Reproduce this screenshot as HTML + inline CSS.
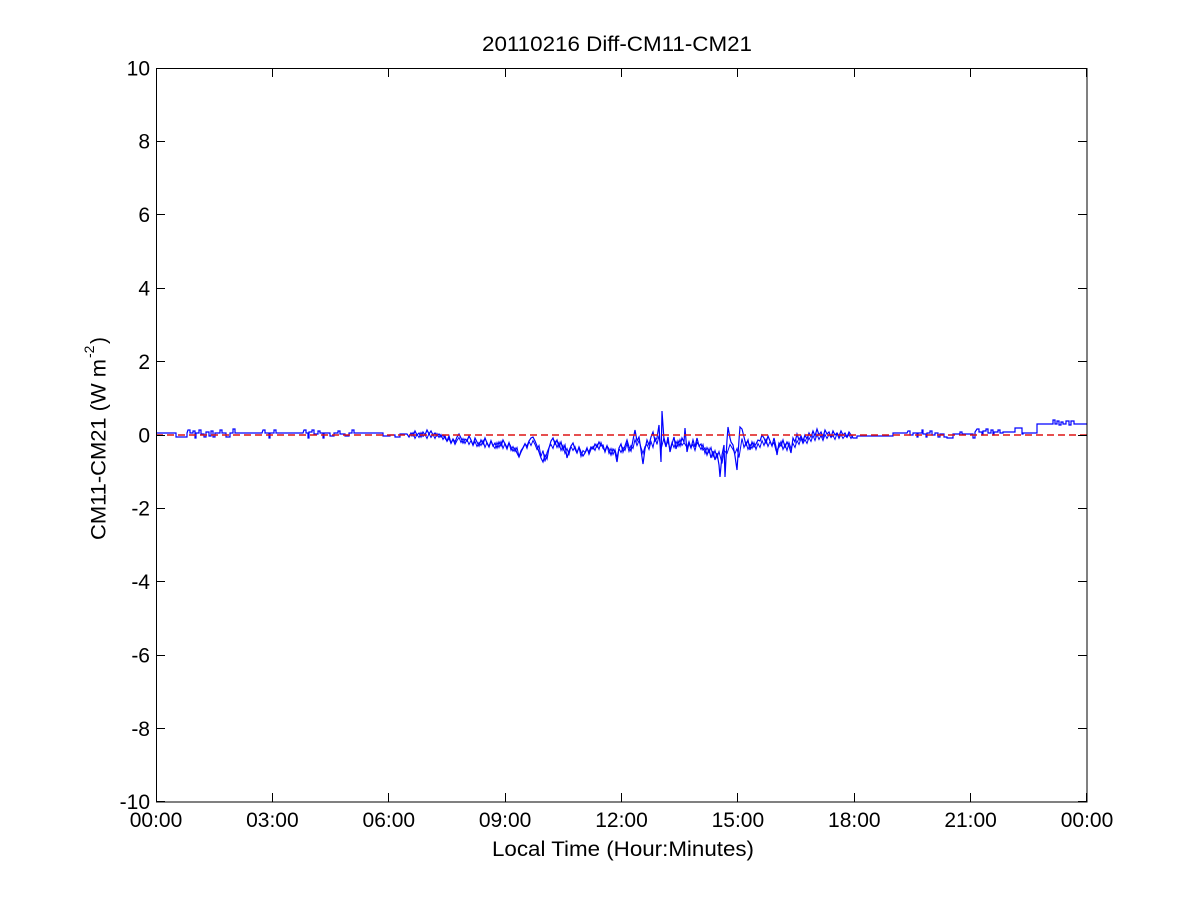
<!DOCTYPE html>
<html>
<head>
<meta charset="utf-8">
<style>
html,body{margin:0;padding:0;background:#fff;}
svg{display:block;}
text{font-family:"Liberation Sans",Arial,sans-serif;fill:#000;}
</style>
</head>
<body>
<svg width="1201" height="901" viewBox="0 0 1201 901" xmlns="http://www.w3.org/2000/svg">
<rect x="0" y="0" width="1201" height="901" fill="#fff"/>

<!-- data series -->
<polyline fill="none" stroke="#0000ff" stroke-width="1.2" stroke-linejoin="miter" points="
156,433 176,433 176,437 187,437 187,433
188,430 190,430 190,433 193,433 193,431 195,431 195,438 196,438 196,433 199,433 199,430 201,430 201,434 204,434 204,437 206,437 206,432 209,432 209,436 211,436 211,431 213,431 213,437 215,437 215,433 220,433 220,430 222,430 222,433 226,433 226,437 230,437 230,433 233,433 233,429 235,429 235,433
262,433 263,430 265,430 265,433 269,433 269,438 270,438 270,433 274,433 274,430 276,430 276,433
303,433 304,430 306,430 306,433 308,433 308,438 309,438 309,432 312,432 312,430 314,430 314,434 318,434 318,431 320,431 320,433 323,433 323,438 324,438 324,433 330,433 330,436 334,436 334,433 338,433 338,431 340,431 340,434 345,434 345,436 349,436 349,433 352,433 352,430 354,430 354,433
383,433 383,436 390,436 390,435 395,435 395,437 400,437 400,434 407,434
409,437 411,433 413,436 415,431 417,435 419,433 421,437 423,432 425,435 427,430 429,434 431,431 433,435 435,433 437,436 439,434 441,437 443,435 445,438 447,441 449,436 451,443 453,439 455,442 457,437
459,434 461,438 463,443 465,439 467,441 469,436 471,440 473,445 475,438 477,442 479,446 481,440 483,444 485,438 487,443 489,447 491,441 493,446 495,443 497,448 499,442 501,446 503,440 505,444 507,449 509,443 511,447 513,451 515,448 517,453 519,457 521,452 523,448 525,444 527,446 529,441 531,438 533,437 535,441 537,446 539,452 541,458 543,462 545,455 547,459 549,448 551,441 553,438 555,444 557,440 559,447 561,442 563,450 565,445 567,458 569,451 571,446 573,443 575,449 577,453 579,447 581,452 583,456 585,453 587,449 589,452 591,447 593,449 595,444 597,447 599,442 601,446 603,445 605,452 607,446 609,449 611,455 613,449 615,452 617,462 619,448 621,444 623,452 625,446 627,440 629,447 631,451 633,440 635,430 637,441 639,437 641,450 643,464 645,449 647,440 649,445 651,437 653,432 655,441 657,438 659,425 661,462 662,411 664,440 666,447 668,437 670,452 672,444 674,437 676,449 678,441 680,446 682,438 684,442 685,428 687,452 689,443 691,448 693,440 695,447 697,438 699,446 701,444 703,450 705,448 707,455 709,449 711,458 713,451 715,460 717,453 719,465 720,477 722,455 724,445 725,477 727,440 728,427 730,438 731,442 733,445 735,456 737,470 739,440 740,427 742,429 744,437 746,445 748,440 750,450 752,442 754,447 756,444 758,440 760,441 762,435 764,438 766,443 768,436 770,441 772,446 774,438 776,447 777,455 779,443 781,446 783,440 785,447 787,442 789,446 791,453 793,438 795,442 797,434 799,440 801,436 803,441 805,435 807,439 809,433 811,437 813,431 815,436 817,429 819,435 821,432 823,437 825,430 827,434 829,432 831,437 833,431 835,435 837,433 839,436 841,431 843,435 845,433 847,437 849,432 851,435 853,438 857,438 857,436 893,436 893,433 907,433
908,431 910,431 910,435 913,435 913,433 917,433 917,437 918,437 918,433 922,433 922,430 923,430 923,434 926,434 926,437 927,437 927,433 930,433 930,431 932,431 932,435 935,435 935,433 938,433 938,437 940,437 940,434 944,434 944,437 947,437
947,438 953,438 953,434 960,434 960,432 962,432 962,434 973,434 973,438 975,438 975,432
977,429 979,429 979,432 982,432 982,435 983,435 983,431 986,431 986,429 988,429 988,433 991,433 991,430 993,430 993,435 994,435 994,432 998,432 998,430 1000,430 1000,433 1003,433 1003,432 1015,432 1015,428 1022,428 1022,434 1023,434 1023,433 1037,433 1037,424 1053,424 1053,420 1055,420 1055,424 1057,424 1057,421 1059,421 1059,425 1061,425 1061,422 1063,422 1063,424 1066,424 1066,421 1069,421 1069,425 1071,425 1071,421 1074,421 1074,424 1087,424
"/>

<!-- densifying copy of the noisy midday section -->
<polyline fill="none" stroke="#0000ff" stroke-width="1" transform="translate(1,1.5)" points="
410,435 412,431 414,437 416,433 418,436 420,431 422,435 424,433 426,437 428,432 430,436 432,433 434,437 436,432 438,436 440,433 442,438 444,434 446,440 448,437 450,442 452,438 454,443 456,439
458,436 460,441 462,437 464,442 466,438 468,443 470,439 472,444 474,440 476,445 478,441 480,444 482,439 484,446 486,441 488,445 490,439 492,444 494,447 496,441 498,446 500,440 502,447 504,442 506,446 508,441 510,449 512,445 514,450 516,446 518,455 520,449 522,446 524,442 526,447 528,440 530,444 532,439 534,443 536,448 538,444 540,455 542,449 544,460 546,451 548,446 550,443 552,447 554,440 556,446 558,441 560,449 562,444 564,452 566,447 568,453 570,445 572,449 574,445 576,451 578,446 580,455 582,449 584,451 586,446 588,453 590,448 592,445 594,449 596,443 598,448 600,441 602,447 604,449 606,444 608,452 610,447 612,453 614,448 616,456 618,447 620,451 622,446 624,449 626,442 628,450 630,444 632,447 634,438 636,444 638,439 640,446 642,452 644,445 646,443 648,448 650,440 652,446 654,436 656,443 658,434 660,448 663,436 665,444 667,440 669,448 671,441 673,446 675,440 677,445 679,438 681,444 683,441 686,446 688,440 690,446 692,443 694,449 696,441 698,444 700,448 702,443 704,452 706,446 708,451 710,446 712,455 714,449 716,456 718,450 721,462 723,449 726,452 729,443 732,448 734,452 736,447 738,456 741,437 743,446 745,441 747,448 749,443 751,447 753,441 755,448 757,442 759,446 761,439 763,444 765,438 767,445 769,440 771,444 773,441 775,449 778,446 780,440 782,448 784,443 786,449 788,441 790,447 792,442 794,446 796,439 798,443 800,437 802,442 804,438 806,442 808,436 810,440 812,434 814,439 816,433 818,438 820,434 822,439 824,433 826,437 828,433 830,436 832,434 834,438 836,432 838,437 840,433 842,437 844,434 846,436 848,433 850,437 852,434
"/>

<!-- zero reference dashed line -->
<line x1="156" y1="435" x2="1087" y2="435" stroke="#dd1515" stroke-width="1.4" stroke-dasharray="7 4"/>

<!-- axes box -->
<rect x="156.5" y="68.5" width="930.5" height="733.5" fill="none" stroke="#000" stroke-width="1"/>

<!-- ticks -->
<g stroke="#000" stroke-width="1">
  <path d="M156,68.5h9 M156,141.5h9 M156,214.5h9 M156,288.5h9 M156,361.5h9 M156,435.5h9 M156,508.5h9 M156,581.5h9 M156,655.5h9 M156,728.5h9 M156,801.5h9"/>
  <path d="M1087,68.5h-9 M1087,141.5h-9 M1087,214.5h-9 M1087,288.5h-9 M1087,361.5h-9 M1087,435.5h-9 M1087,508.5h-9 M1087,581.5h-9 M1087,655.5h-9 M1087,728.5h-9 M1087,801.5h-9"/>
  <path d="M156.5,802v-9 M272.5,802v-9 M388.5,802v-9 M505.5,802v-9 M621.5,802v-9 M737.5,802v-9 M854.5,802v-9 M970.5,802v-9 M1086.5,802v-9"/>
  <path d="M156.5,68v9 M272.5,68v9 M388.5,68v9 M505.5,68v9 M621.5,68v9 M737.5,68v9 M854.5,68v9 M970.5,68v9 M1086.5,68v9"/>
</g>

<!-- y tick labels -->
<g font-size="21" text-anchor="end">
  <text x="150" y="75.5">10</text>
  <text x="150" y="148.5">8</text>
  <text x="150" y="222">6</text>
  <text x="150" y="295.5">4</text>
  <text x="150" y="369">2</text>
  <text x="150" y="442.5">0</text>
  <text x="150" y="515.5">-2</text>
  <text x="150" y="589">-4</text>
  <text x="150" y="662.5">-6</text>
  <text x="150" y="736">-8</text>
  <text x="150" y="809">-10</text>
</g>

<!-- x tick labels -->
<g font-size="21" text-anchor="middle">
  <text x="156" y="827">00:00</text>
  <text x="272.4" y="827">03:00</text>
  <text x="388.8" y="827">06:00</text>
  <text x="505.1" y="827">09:00</text>
  <text x="621.5" y="827">12:00</text>
  <text x="737.9" y="827">15:00</text>
  <text x="854.3" y="827">18:00</text>
  <text x="970.6" y="827">21:00</text>
  <text x="1087" y="827">00:00</text>
</g>

<!-- title -->
<text x="482" y="51" font-size="21" textLength="270" lengthAdjust="spacingAndGlyphs">20110216 Diff-CM11-CM21</text>

<!-- x label -->
<text x="492" y="856" font-size="21" textLength="262" lengthAdjust="spacingAndGlyphs">Local Time (Hour:Minutes)</text>

<!-- y label -->
<text transform="translate(105.5,540) rotate(-90)" font-size="21" textLength="181" lengthAdjust="spacingAndGlyphs">CM11-CM21 (W m</text>
<text transform="translate(94,358) rotate(-90)" font-size="14">-2</text>
<text transform="translate(105.5,344) rotate(-90)" font-size="21">)</text>
</svg>
</body>
</html>
